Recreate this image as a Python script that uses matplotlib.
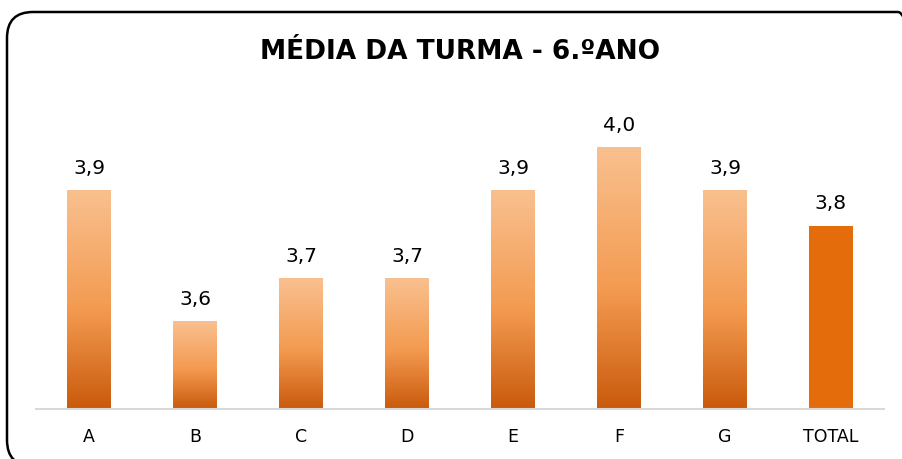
import numpy as np
import matplotlib
matplotlib.use('Agg')
import matplotlib.pyplot as plt
from matplotlib.colors import LinearSegmentedColormap
from matplotlib.patches import FancyBboxPatch

categorias = ['A', 'B', 'C', 'D', 'E', 'F', 'G', 'TOTAL']
medias = [3.9, 3.6, 3.7, 3.7, 3.9, 4.0, 3.9, 3.82]
rotulos = ['3,9', '3,6', '3,7', '3,7', '3,9', '4,0', '3,9', '3,8']
titulo = 'MÉDIA DA TURMA - 6.ºANO'

y_min, y_max = 3.4, 4.2
largura = 0.415

grad = LinearSegmentedColormap.from_list(
    'laranja', [(0.0, '#C95A0C'), (0.45, '#F39A50'), (1.0, '#F9C08F')])
cor_total = '#E46C0A'

plt.rcParams['font.family'] = ['DejaVu Sans']

fig = plt.figure(figsize=(9.02, 4.59), dpi=100)

# moldura arredondada (em polegadas, passa da borda direita e de baixo)
moldura = FancyBboxPatch((0.07, -0.07), 9.17, 4.54,
                         boxstyle='round,pad=0,rounding_size=0.26',
                         transform=fig.dpi_scale_trans, fill=False,
                         edgecolor='black', linewidth=1.8, clip_on=False)
fig.patches.append(moldura)

ax = fig.add_axes([36 / 902, 50 / 459, 848 / 902, 349 / 459])

gradiente = np.linspace(0, 1, 256).reshape(-1, 1)
for i, (cat, v, r) in enumerate(zip(categorias, medias, rotulos)):
    x0, x1 = i - largura / 2, i + largura / 2
    if cat == 'TOTAL':
        ax.bar(i, v - y_min, bottom=y_min, width=largura, color=cor_total, zorder=2)
    else:
        ax.imshow(gradiente, cmap=grad, origin='lower', aspect='auto',
                  extent=(x0, x1, y_min, v), zorder=2, interpolation='bilinear')
    ax.annotate(r, (i, v), xytext=(0, 9), textcoords='offset points',
                ha='center', va='bottom', fontsize=14.5, color='black')

ax.set_xlim(-0.5, len(categorias) - 0.5)
ax.set_ylim(y_min, y_max)
ax.set_xticks(range(len(categorias)))
ax.set_xticklabels(categorias, fontsize=12.5)
ax.tick_params(axis='x', length=0, pad=14)
ax.set_yticks([])
for s in ['top', 'right', 'left']:
    ax.spines[s].set_visible(False)
ax.spines['bottom'].set_color('#D9D9D9')
ax.spines['bottom'].set_linewidth(1.5)

fig.text(460 / 902, 1 - 52 / 459, titulo, ha='center', va='center',
         fontsize=19, fontweight='bold')

fig.savefig('out.png', dpi=100)
